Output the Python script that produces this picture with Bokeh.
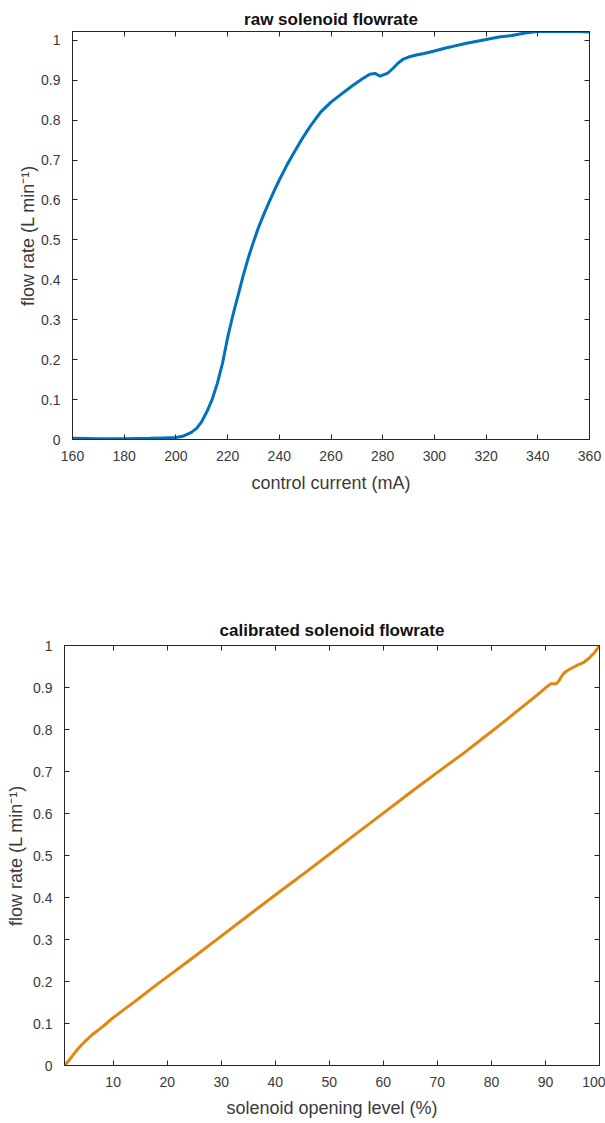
from bokeh.plotting import figure
from bokeh.models import Range1d, FixedTicker, LinearAxis
from bokeh.embed import file_html
from bokeh.resources import INLINE

# ---- data: raw solenoid flowrate ----
raw_current_mA = [160, 170, 180, 190, 195, 200, 203, 206, 208, 210, 212, 214, 216, 218,
                  220, 222, 224, 226, 228, 230, 232, 234, 236, 238, 240, 243, 246, 249,
                  252, 256, 260, 264, 268, 272, 275, 277, 279, 282, 284, 286, 288, 290,
                  293, 296, 300, 304, 308, 312, 316, 320, 325, 330, 335, 340, 345, 350,
                  355, 360]
raw_flow = [0.003, 0.002, 0.002, 0.003, 0.004, 0.005, 0.009, 0.018, 0.028, 0.045, 0.07,
            0.1, 0.14, 0.19, 0.255, 0.31, 0.36, 0.41, 0.455, 0.495, 0.532, 0.564, 0.594,
            0.623, 0.65, 0.688, 0.722, 0.755, 0.785, 0.82, 0.845, 0.865, 0.885, 0.903,
            0.915, 0.917, 0.91, 0.918, 0.93, 0.943, 0.953, 0.958, 0.963, 0.967, 0.973,
            0.98, 0.986, 0.992, 0.997, 1.002, 1.008, 1.012, 1.018, 1.022, 1.022, 1.022,
            1.022, 1.021]

# ---- data: calibrated solenoid flowrate ----
cal_level_pct = [1, 2, 3, 4, 5, 6, 7, 8, 9, 10, 12, 14, 16, 18, 20, 25, 30, 35, 40, 45,
                 50, 55, 60, 65, 70, 75, 78, 81, 84, 87, 89, 90, 91, 92, 92.5, 93, 93.5,
                 94, 95, 96, 97, 98, 99, 99.5, 100]
cal_flow = [0, 0.015, 0.032, 0.047, 0.06, 0.072, 0.082, 0.092, 0.103, 0.114, 0.133,
            0.152, 0.172, 0.192, 0.211, 0.259, 0.308, 0.357, 0.406, 0.454, 0.503, 0.552,
            0.601, 0.65, 0.698, 0.745, 0.775, 0.805, 0.836, 0.867, 0.888, 0.899, 0.909,
            0.909, 0.916, 0.927, 0.935, 0.94, 0.947, 0.954, 0.959, 0.969, 0.982, 0.991,
            1.0]

# ---- ticks ----
raw_x_ticks = [160, 180, 200, 220, 240, 260, 280, 300, 320, 340, 360]
cal_x_ticks = [10, 20, 30, 40, 50, 60, 70, 80, 90, 100]
y_ticks = [0, 0.1, 0.2, 0.3, 0.4, 0.5, 0.6, 0.7, 0.8, 0.9, 1]
y_tick_labels = ["0", "0.1", "0.2", "0.3", "0.4", "0.5", "0.6", "0.7", "0.8", "0.9", "1"]

FONT = "Liberation Sans"
AX = "#262626"
LBL = "#3a3a3a"


def style(p, xticks, title_standoff, ylabel_standoff, xlabel_standoff):
    p.title.text_font = FONT
    p.title.text_font_size = "17px"
    p.title.text_font_style = "bold"
    p.title.align = "center"
    p.title.text_color = "#111111"
    p.title.standoff = title_standoff
    p.outline_line_color = AX
    p.outline_line_width = 1
    p.xgrid.visible = False
    p.ygrid.visible = False
    # mirrored axes on top / right (ticks only)
    top_ax = LinearAxis()
    right_ax = LinearAxis()
    p.add_layout(top_ax, "above")
    p.add_layout(right_ax, "right")
    bottom_ax = p.below[0]
    left_ax = p.left[0]
    for ax in (bottom_ax, top_ax):
        ax.ticker = FixedTicker(ticks=xticks)
    for ax in (left_ax, right_ax):
        ax.ticker = FixedTicker(ticks=y_ticks)
        ax.major_label_overrides = dict(zip(y_ticks, y_tick_labels))
    for ax in (bottom_ax, top_ax, left_ax, right_ax):
        ax.axis_line_color = AX
        ax.major_tick_line_color = AX
        ax.major_tick_in = 5
        ax.major_tick_out = 0
        ax.minor_tick_line_color = None
        ax.major_label_text_font = FONT
        ax.major_label_text_font_size = "14px"
        ax.major_label_text_color = LBL
        ax.axis_label_text_font = FONT
        ax.axis_label_text_font_size = "18px"
        ax.axis_label_text_font_style = "normal"
        ax.axis_label_text_color = LBL
    for ax in (top_ax, right_ax):
        ax.major_label_text_color = None
        ax.major_label_text_font_size = "0px"
        ax.major_label_standoff = 0
    bottom_ax.major_label_standoff = 11
    bottom_ax.axis_label_standoff = xlabel_standoff
    left_ax.major_label_standoff = 12
    left_ax.axis_label_standoff = ylabel_standoff


# ---- top figure ----
p1 = figure(width=605, height=530, output_backend="svg", toolbar_location=None,
            title="raw solenoid flowrate",
            x_range=Range1d(160, 360), y_range=Range1d(0, 1.022),
            x_axis_label="control current (mA)",
            y_axis_label="flow rate (L min\u207b\u00b9)",
            min_border_left=72, min_border_right=16, min_border_top=31,
            min_border_bottom=91)
p1.line(raw_current_mA, raw_flow, line_color="#0072BD", line_width=3)
style(p1, raw_x_ticks, 5, 0, 9)

# ---- bottom figure ----
p2 = figure(width=605, height=593, output_backend="svg", toolbar_location=None,
            title="calibrated solenoid flowrate",
            x_range=Range1d(1, 100), y_range=Range1d(0, 1),
            x_axis_label="solenoid opening level (%)",
            y_axis_label="flow rate (L min\u207b\u00b9)",
            min_border_left=64, min_border_right=6, min_border_top=115,
            min_border_bottom=58)
p2.line(cal_level_pct, cal_flow, line_color="#E3860F", line_width=3)
style(p2, cal_x_ticks, 12, 4, 8)

with open("out.html", "w") as f:
    f.write(file_html([p1, p2], INLINE))
